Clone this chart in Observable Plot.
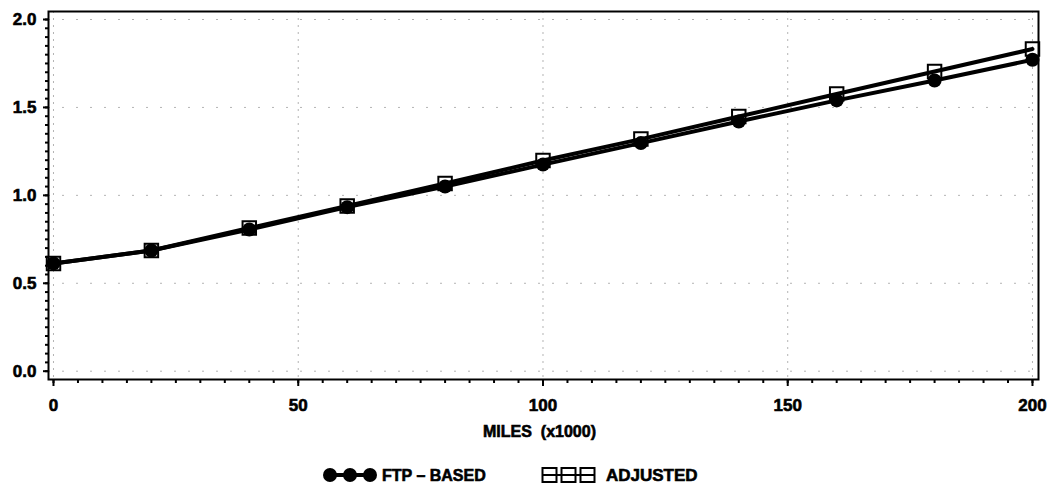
<!DOCTYPE html>
<html><head><meta charset="utf-8">
<script src="https://cdn.jsdelivr.net/npm/d3@7"></script>
<script src="https://cdn.jsdelivr.net/npm/@observablehq/plot@0.6"></script>
<style>
body{margin:0;background:#fff;font-family:"Liberation Sans",Arial,sans-serif;}
#chart{position:relative;width:1053px;height:489px;overflow:hidden;}
#chart svg{display:block;}
#chart text{stroke:#000;stroke-width:0.6px;}
#legend{position:absolute;left:0;top:458px;}
</style></head><body><div id="chart"></div>
<script>
const miles = [0, 20, 40, 60, 80, 100, 120, 140, 160, 180, 200];
const ftpBased = [0.613, 0.686, 0.806, 0.933, 1.05, 1.175, 1.297, 1.42, 1.54, 1.653, 1.771];
const adjusted = [0.613, 0.686, 0.814, 0.94, 1.067, 1.198, 1.32, 1.448, 1.576, 1.704, 1.832];
const seriesNames = ["FTP – BASED", "ADJUSTED"];
const xMajorTicks = [0, 50, 100, 150, 200];
const yMajorTicks = [0, 0.5, 1, 1.5, 2];
const xLabel = "MILES  (x1000)";

const ftpRows = miles.map((m, i) => ({miles: m, value: ftpBased[i], series: seriesNames[0]}));
const adjRows = miles.map((m, i) => ({miles: m, value: adjusted[i], series: seriesNames[1]}));
const xMinorTicks = d3.range(0, 41).map(i => i * 5);
const yMinorTicks = d3.range(0, 41).map(i => Math.round(i * 5) / 100);

const font = '"Liberation Sans", Arial, sans-serif';
const plot = Plot.plot({
  width: 1053, height: 458,
  marginTop: 11, marginBottom: 79, marginLeft: 48, marginRight: 15,
  style: {fontFamily: font, fontWeight: "bold", fontSize: "17px", color: "#000", background: "#fff"},
  x: {domain: [-1.02, 201.23], label: null},
  y: {domain: [-0.0472, 2.0455], label: null},
  marks: [
    Plot.gridY(yMajorTicks, {stroke: "#b4b4b4", strokeOpacity: 1, strokeDasharray: "2,12"}),
    Plot.gridX(xMajorTicks, {stroke: "#b4b4b4", strokeOpacity: 1, strokeDasharray: "2,5"}),
    Plot.axisY(yMinorTicks, {tickSize: 3, strokeWidth: 2, tickFormat: () => "", label: null}),
    Plot.axisY(yMajorTicks, {tickSize: 5, tickPadding: 7, strokeWidth: 2, tickFormat: d3.format(".1f"), label: null, fontSize: 17}),
    Plot.axisX(xMinorTicks, {tickSize: 4, strokeWidth: 2, tickFormat: () => "", label: null}),
    Plot.axisX(xMajorTicks, {tickSize: 7, tickPadding: 12, strokeWidth: 2, label: null, fontSize: 17}),
    Plot.frame({stroke: "#000", strokeWidth: 2}),
    Plot.line(adjRows, {x: "miles", y: "value", stroke: "#000", strokeWidth: 4}),
    Plot.line(ftpRows, {x: "miles", y: "value", stroke: "#000", strokeWidth: 4}),
    Plot.dot(adjRows, {x: "miles", y: "value", symbol: "square", r: 7.6, stroke: "#000", strokeWidth: 2, fill: "none"}),
    Plot.dot(ftpRows, {x: "miles", y: "value", r: 7, fill: "#000", stroke: "none"}),
    Plot.text([xLabel], {text: d => d, frameAnchor: "bottom", dy: 57, dx: -4, fontSize: 16, fontWeight: "bold", fill: "#000"})
  ]
});
const chart = document.getElementById("chart");
chart.appendChild(plot);

// legend below the plot
const lg = d3.select(chart).append("svg").attr("id", "legend")
  .attr("width", 1053).attr("height", 31)
  .style("font-family", font).style("font-weight", "bold").style("font-size", "16px");
const cy = 17;
// FTP-BASED symbol
lg.append("line").attr("x1", 330).attr("x2", 370).attr("y1", cy).attr("y2", cy)
  .attr("stroke", "#000").attr("stroke-width", 4);
[330, 350, 370].forEach(cx => lg.append("circle").attr("cx", cx).attr("cy", cy).attr("r", 7).attr("fill", "#000"));
lg.append("text").attr("x", 382).attr("y", cy + 6).text(seriesNames[0]);
// ADJUSTED symbol
lg.append("line").attr("x1", 542).attr("x2", 595).attr("y1", cy).attr("y2", cy)
  .attr("stroke", "#000").attr("stroke-width", 2);
[549.5, 568.5, 587.5].forEach(cx => lg.append("rect").attr("x", cx - 7).attr("y", cy - 7)
  .attr("width", 14).attr("height", 14).attr("fill", "none").attr("stroke", "#000").attr("stroke-width", 2));
lg.append("text").attr("x", 606).attr("y", cy + 6).style("font-size", "17px").text(seriesNames[1]);
</script>
</body></html>
